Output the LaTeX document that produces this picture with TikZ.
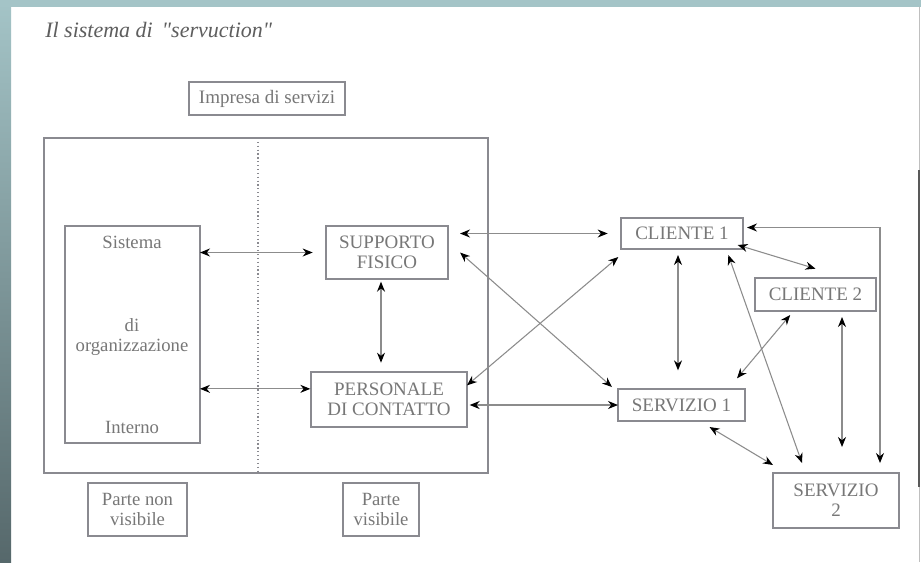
\documentclass[tikz,border=0pt]{standalone}
\usepackage{fontspec}
\setmainfont{Liberation Serif}
\newfontfamily\titlefont{Liberation Serif}[Ligatures=TeXOff]
\usetikzlibrary{arrows.meta}
\definecolor{boxc}{HTML}{8A8A90}
\definecolor{linec}{HTML}{8C8C8C}
\definecolor{txtc}{HTML}{777777}
\definecolor{titc}{HTML}{5E5E5E}
\definecolor{tealtop}{HTML}{A4C4C7}
\definecolor{tealbot}{HTML}{56686B}
\begin{document}
\begin{tikzpicture}[x=0.75pt,y=-0.75pt,
  box/.style={draw=boxc, line width=0.9pt, inner sep=0pt, outer sep=0pt, align=center, text=txtc,
    font=\fontsize{14.25}{15}\selectfont},
  arr/.style={draw=linec, line width=0.8pt,
    {Stealth[length=7.5pt,width=6pt,black]}-{Stealth[length=7.5pt,width=6pt,black]}},
  lbl/.style={text=txtc, font=\fontsize{14}{15}\selectfont, inner sep=0pt}]
\useasboundingbox (0,0) rectangle (921,562);
\fill[white] (0,0) rectangle (921,562);
\shade[top color=tealtop, bottom color=tealbot] (0,0) rectangle (11,562);
\fill[tealtop] (0,0) rectangle (921,7);
\draw[gray!50, line width=0.7pt] (919,7) -- (919,562);
\draw[black!65, line width=1.5pt] (919,170) -- (919,487);

% title
\node[anchor=base west, inner sep=0pt, text=titc, font=\titlefont\fontsize{16.5}{18}\selectfont\itshape]
  (title) at (45,37) {Il sistema di \,"servuction"};

% boxes
\node[box, minimum width=117pt, minimum height=24.75pt] (imp) at (267,98.5) {Impresa di servizi};
\node[box, minimum width=333pt, minimum height=251.25pt] (big) at (266,305.5) {};
\coordinate (dtop) at (258,138);
\coordinate (dbot) at (258,473);
\draw[boxc, dotted, line width=0.9pt] (dtop) -- (dbot);

\node[box, minimum width=101.25pt, minimum height=162.75pt] (sis) at (132.5,334.5) {};
\node[lbl] (t1) at (132,242) {Sistema};
\node[lbl] (t2) at (132,325) {di};
\node[lbl] (t3) at (132,347) {organizzazione};
\node[lbl] (t4) at (132,427) {Interno};

\node[box, minimum width=91.5pt, minimum height=39.75pt] (sup) at (387,252.5) {SUPPORTO\\FISICO};
\node[box, minimum width=117pt, minimum height=41.25pt] (per) at (389,399.5) {PERSONALE\\DI CONTATTO};
\node[box, minimum width=91.5pt, minimum height=23.25pt] (cli1) at (682,233.5) {CLIENTE 1};
\node[box, minimum width=90.75pt, minimum height=24.75pt] (cli2) at (815.5,294.5) {CLIENTE 2};
\node[box, minimum width=95.25pt, minimum height=24pt] (ser1) at (681.5,405) {SERVIZIO 1};
\node[box, minimum width=94.5pt, minimum height=41.25pt] (ser2) at (836,500.5) {SERVIZIO\\2};
\node[box, minimum width=74.25pt, minimum height=39.75pt, font=\fontsize{14}{15}\selectfont] (pnv) at (137.5,509.5) {Parte non\\visibile};
\node[box, minimum width=57pt, minimum height=39.75pt, font=\fontsize{14}{15}\selectfont] (pv) at (381,509.5) {Parte\\visibile};

% connectors
\draw[arr, shorten >=10pt] (sis.east |- sup.west) -- (sup.west);
\draw[arr, shorten >=0.5pt] ([yshift=8pt]sis.east |- per.west) -- ([yshift=8pt]per.west);
\draw[arr, shorten <=2pt, shorten >=7pt] ([xshift=-4.5pt]sup.south) -- ([xshift=-4.5pt]sup.south |- per.north);
\draw[arr, shorten <=9pt, shorten >=10pt] (sup.east |- cli1.west) -- (cli1.west);
\draw[arr] ([xshift=9pt]sup.east) -- ([shift={(-4.5pt,1.5pt)}]ser1.north west);
\draw[arr] ([yshift=-10pt]per.north east) -- ([shift={(-2pt,-6pt)}]cli1.south west);
\draw[arr, shorten <=2pt] (per.east |- ser1.west) -- (ser1.west);
\draw[arr, shorten <=4.5pt, shorten >=14pt] ([xshift=-3pt]cli1.south) -- ([xshift=-3pt]cli1.south |- ser1.north);
\draw[arr] ([shift={(-4pt,3pt)}]cli1.south east) -- ([yshift=7pt]cli2.north);
\draw[arr] ([shift={(-19pt,-3pt)}]cli2.south) -- ([shift={(-6pt,8pt)}]ser1.north east);
\draw[arr] ([shift={(-11pt,-4.5pt)}]cli1.south east) -- ([shift={(-25.5pt,7.5pt)}]ser2.north);
\draw[arr] ([shift={(-25.5pt,-4.5pt)}]cli2.south east) -- ([shift={(4.5pt,19.5pt)}]ser2.north);
\draw[arr] ([shift={(3pt,4.5pt)}]cli1.east) -| ([shift={(-14.25pt,7.5pt)}]ser2.north east);
\draw[arr] ([shift={(21pt,-4.5pt)}]ser1.south) -- ([yshift=6pt]ser2.north west);
\end{tikzpicture}
\end{document}
